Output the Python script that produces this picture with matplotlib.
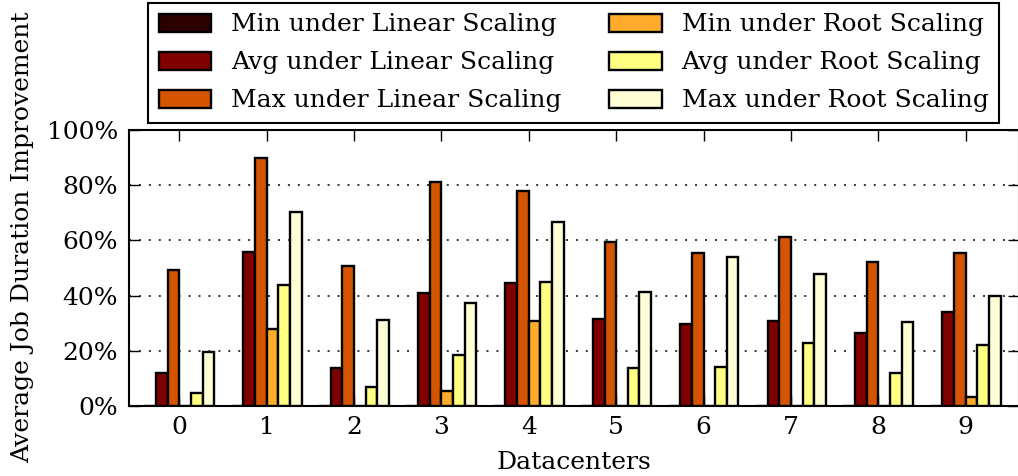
import matplotlib
matplotlib.use('Agg')
import matplotlib.pyplot as plt
from matplotlib.ticker import FuncFormatter
import numpy as np

plt.rcParams['font.family'] = 'DejaVu Serif'
plt.rcParams['font.size'] = 18

datacenters = ['0', '1', '2', '3', '4', '5', '6', '7', '8', '9']

# improvement in percent, one list per series
min_linear = [0, 0, 0, 0, 0, 0, 0, 0, 0, 0]
avg_linear = [12.1, 55.9, 13.9, 40.8, 44.6, 31.4, 29.6, 30.8, 26.3, 33.9]
max_linear = [49.3, 89.7, 50.6, 81.0, 77.9, 59.4, 55.4, 61.3, 52.2, 55.3]
min_root = [0, 27.9, 0, 5.5, 30.8, 0, 0, 0, 0, 3.3]
avg_root = [4.8, 43.8, 7.0, 18.4, 44.9, 13.9, 14.3, 22.7, 11.8, 22.0]
max_root = [19.7, 70.2, 31.0, 37.3, 66.8, 41.3, 54.1, 47.7, 30.4, 39.9]

series = [min_linear, avg_linear, max_linear, min_root, avg_root, max_root]
labels = ['Min under Linear Scaling', 'Avg under Linear Scaling',
          'Max under Linear Scaling', 'Min under Root Scaling',
          'Avg under Root Scaling', 'Max under Root Scaling']

fig = plt.figure(figsize=(10.18, 4.76), dpi=100)
ax = fig.add_axes([129 / 1018., 70 / 476., 890 / 1018., 276 / 476.])

x = np.arange(len(datacenters))
width = 0.8 / 6
handles = []
for i, vals in enumerate(series):
    color = plt.cm.afmhot((i + 0.5) / 6)
    b = ax.bar(x - 0.4 + width * (i + 0.5), vals, width, color=color,
               edgecolor='black', linewidth=1.7, label=labels[i], zorder=3)
    handles.append(b)

ax.set_xlim(-0.575, 9.61)
ax.set_ylim(0, 100)
ax.set_xticks(x)
ax.set_xticklabels(datacenters)
ax.set_yticks(np.arange(0, 101, 20))
ax.yaxis.set_major_formatter(FuncFormatter(lambda v, p: '%d%%' % v))
ax.tick_params(direction='in', top=True, right=True, length=8, width=1)
ax.tick_params(axis='x', pad=7)
ax.tick_params(axis='y', pad=8)
ax.yaxis.grid(True, linestyle=(0, (1.3, 5.2)), color='black', linewidth=1.1,
              zorder=0)
for s in ax.spines.values():
    s.set_linewidth(1.5)

ax.set_xlabel('Datacenters', labelpad=9)
fig.text(11 / 1018., 13 / 476., 'Average Job Duration Improvement',
         rotation=90, ha='left', va='bottom')

# legend in two columns: linear on the left, root on the right
leg = fig.legend(handles, labels, ncol=2, loc='upper left',
                 bbox_to_anchor=(148 / 1018., 1 - 3 / 476.), frameon=True,
                 fancybox=False, edgecolor='black', handlelength=2.1,
                 handleheight=0.7, columnspacing=1.9, labelspacing=0.6,
                 borderpad=0.42, borderaxespad=0, framealpha=1)
leg.get_frame().set_linewidth(1.5)

plt.savefig('out.png', dpi=100)
